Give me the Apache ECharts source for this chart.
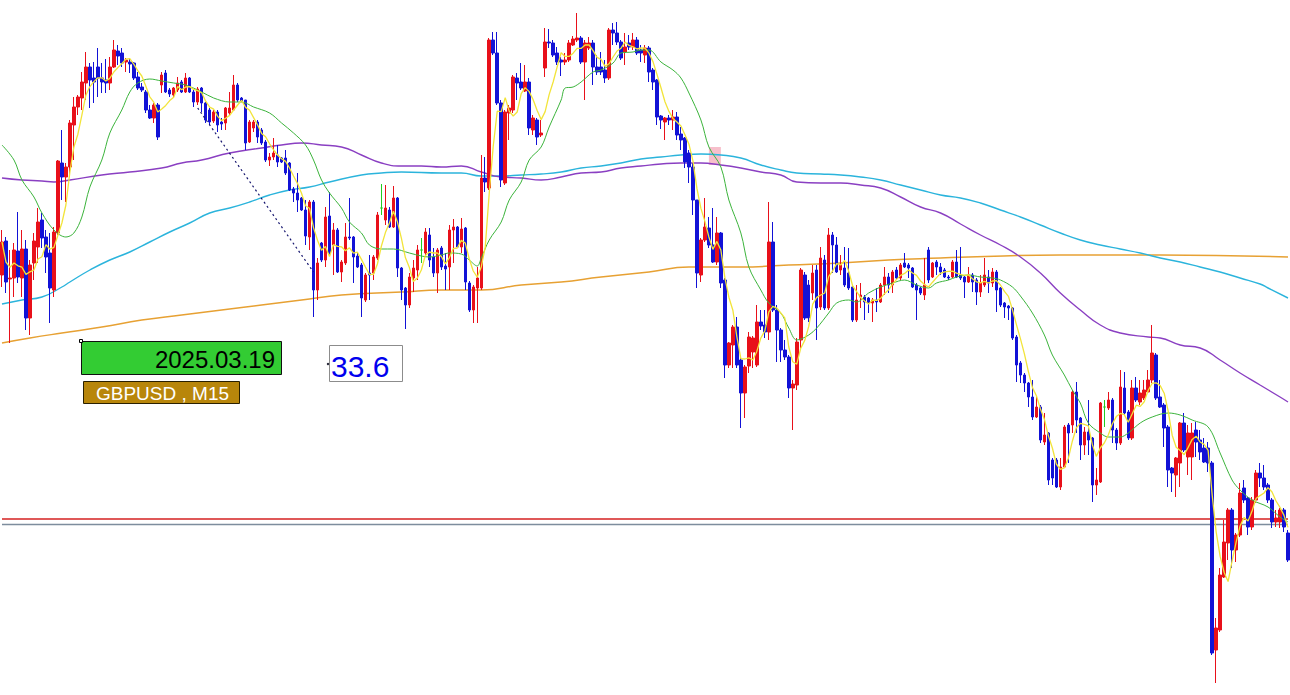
<!DOCTYPE html>
<html><head><meta charset="utf-8">
<script src="https://cdn.jsdelivr.net/npm/echarts@6/dist/echarts.min.js"></script>
<style>html,body{margin:0;padding:0;background:#fff;overflow:hidden}#c{width:1290px;height:695px}</style>
</head><body><div id="c"></div>
<script>
// All prices are stored in points (0.00001) above 1.29000 (GBPUSD, M15)
const open = [1125,1159,1121,1122,1149,1122,1151,1082,1137,1153,
1180,1163,1147,1110,1167,1237,1223,1233,1275,1293,
1302,1317,1333,1322,1333,1322,1320,1317,1333,1349,
1347,1338,1338,1337,1323,1313,1308,1290,1282,1295,
1315,1327,1310,1305,1310,1318,1308,1322,1308,1298,
1312,1297,1290,1279,1288,1278,1277,1287,1290,1315,
1302,1300,1258,1272,1278,1270,1258,1240,1243,1245,
1242,1242,1237,1211,1207,1202,1190,1163,1198,1110,
1157,1140,1184,1155,1170,1128,1137,1163,1163,1144,
1135,1100,1127,1127,1142,1192,1180,1190,1173,1202,
1132,1112,1095,1122,1130,1150,1147,1165,1143,1127,
1152,1134,1133,1170,1173,1153,1172,1117,1090,1112,
1112,1222,1212,1360,1347,1297,1217,1287,1290,1322,
1318,1309,1318,1270,1280,1265,1332,1358,1357,1347,
1340,1338,1340,1355,1360,1362,1338,1352,1357,1333,
1333,1330,1322,1370,1367,1358,1348,1357,1353,1360,
1350,1345,1352,1330,1320,1284,1278,1282,1280,1283,
1266,1262,1247,1233,1200,1125,1160,1172,1155,1138,
1167,1120,1035,1055,1073,1040,1007,1034,1048,1035,
1078,1075,1068,1158,1090,1070,1050,1043,1012,1015,
1060,1125,1115,1107,1130,1093,1140,1092,1165,1155,
1130,1132,1127,1113,1080,1103,1103,1102,1097,1100,
1098,1115,1123,1115,1130,1122,1137,1135,1132,1115,
1112,1105,1150,1123,1138,1133,1130,1123,1123,1138,
1125,1123,1118,1125,1120,1108,1115,1123,1117,1128,
1112,1097,1094,1092,1063,1037,1025,1017,1003,983,
993,958,967,940,940,913,933,975,975,1008,
982,955,968,962,915,918,993,992,1000,970,
957,1012,988,962,1012,998,1002,1008,1020,1045,
1003,995,973,932,925,937,977,943,943,970,
960,952,952,937,750,770,823,857,890,850,
865,912,902,873,900,927,922,915,900,878,
878,890,867];
const close = [1158,1118,1122,1150,1123,1151,1082,1135,1159,1178,
1162,1143,1112,1168,1239,1223,1233,1277,1293,1303,
1318,1333,1320,1318,1322,1318,1317,1333,1350,1344,
1337,1340,1336,1322,1312,1310,1290,1282,1295,1263,
1325,1308,1306,1312,1317,1308,1322,1308,1298,1311,
1297,1280,1278,1288,1275,1276,1292,1292,1315,1300,
1299,1257,1278,1278,1263,1257,1240,1243,1247,1238,
1238,1227,1210,1207,1200,1190,1164,1198,1110,1137,
1140,1183,1147,1170,1128,1138,1163,1162,1143,1133,
1102,1125,1125,1143,1185,1192,1192,1173,1202,1132,
1110,1095,1123,1132,1150,1150,1168,1140,1127,1150,
1133,1131,1170,1173,1153,1171,1118,1090,1113,1122,
1222,1218,1360,1347,1297,1220,1288,1292,1323,1317,
1312,1318,1272,1282,1263,1267,1358,1357,1345,1338,
1338,1340,1357,1361,1362,1338,1357,1357,1333,1328,
1328,1322,1370,1367,1358,1342,1353,1353,1360,1347,
1347,1352,1328,1318,1283,1280,1282,1280,1283,1265,
1260,1238,1233,1200,1127,1160,1173,1155,1138,1167,
1117,1035,1057,1073,1035,1007,1033,1063,1062,1078,
1074,1068,1158,1090,1070,1050,1043,1012,1016,1058,
1130,1082,1082,1127,1092,1142,1092,1165,1155,1128,
1135,1115,1112,1080,1100,1105,1098,1097,1100,1098,
1115,1123,1115,1128,1122,1135,1133,1132,1113,1110,
1107,1115,1120,1137,1133,1128,1123,1122,1138,1123,
1122,1118,1125,1118,1108,1117,1125,1117,1128,1110,
1095,1093,1092,1062,1035,1025,1017,1003,983,993,
960,965,920,922,913,933,973,967,1008,980,
955,968,960,915,920,997,993,1000,970,957,
1013,987,962,1012,1000,1007,1010,1020,1047,1002,
993,972,930,927,942,977,950,967,967,958,
948,938,937,747,772,825,858,890,850,865,
907,900,873,900,927,922,913,900,878,882,
890,873,840];
const low = [1113,1107,1057,1103,1117,1103,1070,1065,1120,1137,
1152,1127,1077,1103,1165,1200,1198,1223,1240,1285,
1290,1300,1292,1297,1303,1307,1307,1310,1332,1335,
1333,1328,1327,1320,1310,1308,1287,1281,1277,1260,
1307,1307,1303,1302,1308,1307,1307,1307,1293,1295,
1288,1277,1275,1277,1268,1270,1270,1285,1290,1298,
1298,1250,1257,1268,1257,1255,1238,1234,1240,1233,
1237,1225,1209,1198,1188,1189,1155,1150,1083,1100,
1138,1133,1145,1125,1127,1118,1135,1160,1117,1132,
1083,1098,1100,1120,1140,1185,1175,1172,1172,1123,
1100,1071,1092,1108,1120,1137,1143,1133,1123,1107,
1130,1110,1110,1137,1152,1147,1110,1088,1077,1077,
1110,1208,1210,1345,1295,1213,1215,1260,1287,1300,
1310,1308,1265,1265,1255,1263,1323,1352,1343,1335,
1324,1335,1338,1354,1358,1336,1300,1350,1315,1325,
1325,1317,1320,1355,1355,1340,1335,1350,1350,1345,
1338,1337,1318,1310,1275,1271,1260,1275,1270,1260,
1250,1232,1217,1185,1112,1118,1158,1152,1137,1135,
1112,1022,1032,1032,1032,972,982,1027,1032,1033,
1070,1062,1060,1088,1038,1038,1040,1002,970,1010,
1052,1080,1078,1100,1060,1090,1090,1090,1127,1127,
1125,1113,1110,1078,1078,1092,1080,1087,1078,1088,
1097,1105,1107,1107,1120,1120,1132,1122,1112,1080,
1105,1100,1117,1122,1125,1125,1122,1120,1122,1122,
1120,1102,1117,1108,1095,1103,1113,1107,1113,1088,
1093,1082,1080,1060,1018,1017,1008,993,980,982,
957,955,915,915,912,910,932,937,967,967,
940,945,945,898,905,917,973,990,957,950,
955,985,960,960,998,995,1000,1007,1017,1000,
992,953,913,908,903,913,948,925,920,943,
940,937,928,745,717,768,822,840,832,838,
863,897,865,870,897,913,910,897,872,873,
872,868,838];
const high = [1170,1163,1150,1157,1188,1170,1160,1140,1167,1192,
1187,1170,1167,1173,1240,1270,1237,1280,1303,1305,
1328,1348,1337,1338,1352,1337,1341,1343,1360,1355,
1352,1342,1341,1338,1328,1317,1310,1295,1297,1297,
1328,1330,1312,1313,1323,1320,1327,1323,1310,1313,
1313,1298,1292,1290,1290,1282,1293,1308,1325,1317,
1303,1300,1280,1280,1280,1272,1260,1247,1262,1255,
1243,1250,1238,1213,1227,1203,1200,1200,1200,1142,
1158,1193,1208,1177,1172,1140,1177,1202,1164,1148,
1137,1127,1145,1145,1188,1216,1215,1193,1214,1203,
1133,1113,1127,1140,1155,1162,1172,1172,1152,1152,
1154,1147,1175,1181,1174,1182,1173,1119,1115,1133,
1245,1243,1362,1368,1368,1300,1290,1295,1325,1327,
1337,1335,1322,1285,1282,1280,1372,1371,1360,1353,
1343,1347,1360,1364,1387,1364,1360,1363,1360,1345,
1348,1340,1372,1377,1378,1360,1367,1365,1367,1363,
1355,1355,1354,1332,1321,1285,1283,1285,1290,1288,
1273,1263,1250,1237,1200,1162,1202,1183,1192,1183,
1168,1122,1058,1075,1083,1042,1035,1068,1064,1095,
1090,1090,1198,1178,1095,1072,1060,1045,1020,1062,
1132,1128,1120,1135,1135,1153,1145,1172,1168,1163,
1145,1153,1152,1115,1115,1117,1105,1103,1102,1112,
1117,1133,1127,1130,1133,1137,1147,1137,1133,1117,
1113,1142,1153,1138,1140,1137,1132,1125,1140,1150,
1153,1125,1133,1127,1122,1125,1142,1130,1132,1130,
1113,1098,1095,1093,1065,1039,1027,1018,1020,1003,
995,987,968,942,942,942,975,977,1010,1018,
983,973,1000,963,932,998,1000,1008,1002,972,
1030,1028,990,1020,1023,1020,1020,1030,1075,1047,
1020,997,975,933,943,978,987,975,977,978,
970,962,958,939,782,832,880,892,892,867,
917,920,903,903,930,937,935,917,902,890,
892,892,870];

// Moving averages (bar index, points)
const greenIdx = [0,3,5,8,10,13,16,18,20,22,25,27,30,32,34,37,40,43,46,50,53,57,60,63,67,70,73,76,78,80,82,85,87,90,92,95,98,102,105,107,110,112,115,117,119,120,122,125,127,130,132,135,137,140,141,143,145,148,150,153,155,158,160,162,165,168,170,172,175,177,180,182,185,187,190,192,195,197,199,202,204,207,209,212,214,217,220,223,226,229,232,234,237,239,242,245,248,250,253,255,258,261,263,266,268,270,272,275,277,280,282,285,288,292,295,298,302,305,308,310,313,317,320,322];
const greenVal = [1255,1240,1220,1203,1187,1170,1163,1167,1183,1213,1240,1267,1290,1308,1317,1321,1319,1317,1315,1308,1302,1298,1298,1293,1287,1277,1267,1255,1240,1220,1207,1192,1178,1167,1155,1151,1151,1147,1144,1143,1145,1147,1146,1140,1134,1142,1160,1178,1200,1218,1240,1253,1273,1300,1312,1313,1318,1328,1330,1337,1347,1348,1350,1350,1338,1330,1322,1307,1280,1253,1233,1200,1167,1133,1110,1097,1087,1072,1060,1065,1072,1087,1097,1100,1098,1107,1113,1117,1120,1115,1112,1117,1120,1123,1125,1123,1122,1120,1113,1104,1087,1065,1045,1025,1010,997,977,967,963,963,967,977,983,987,985,980,973,947,920,910,900,893,883,878];
const cyanIdx = [0,5,10,15,17,22,27,32,37,42,47,52,57,62,67,72,77,82,90,95,100,110,115,120,125,130,135,140,145,150,155,160,165,170,175,180,185,190,195,199,205,210,215,220,225,230,235,240,245,250,255,260,265,270,275,280,285,290,295,300,305,310,315,317,322];
const cyanVal = [1096,1100,1103,1113,1118,1130,1140,1148,1158,1168,1177,1187,1192,1198,1205,1210,1213,1218,1225,1227,1228,1227,1227,1224,1224,1225,1226,1228,1232,1234,1237,1241,1243,1245,1246,1245,1242,1235,1230,1227,1226,1225,1223,1220,1215,1210,1205,1202,1197,1190,1183,1175,1167,1160,1155,1151,1147,1142,1138,1133,1128,1122,1116,1112,1102];
const purpleIdx = [0,5,10,13,17,25,32,40,45,50,57,65,70,75,80,85,90,95,100,105,110,115,120,125,130,135,140,145,150,155,160,165,170,175,180,185,190,195,199,205,210,215,220,225,230,235,240,245,250,255,260,265,270,275,280,287,290,295,300,305,310,315,320,322];
const purpleVal = [1222,1220,1219,1218,1220,1225,1228,1232,1237,1240,1247,1252,1255,1257,1255,1253,1245,1237,1234,1234,1233,1234,1228,1223,1222,1220,1223,1227,1228,1232,1234,1236,1237,1237,1235,1232,1228,1225,1218,1217,1217,1215,1212,1203,1193,1187,1176,1165,1155,1143,1127,1107,1090,1075,1067,1063,1062,1055,1052,1040,1027,1015,1003,998];
const orangeIdx = [0,7,15,25,35,45,55,65,75,85,100,110,120,130,140,150,162,172,185,197,210,222,235,242,265,290,322];
const orangeVal = [1057,1062,1067,1073,1080,1085,1090,1095,1100,1105,1108,1110,1110,1115,1118,1123,1128,1133,1133,1135,1137,1140,1142,1143,1145,1145,1143];

// trend line ends (bar index, points), horizontal levels (points), highlight box
const trendIdx = [49, 78];
const trendVal = [1292, 1128];
const redLevel = 881;
const greyLevel = 875.5;
const boxIdx = [177, 180];
const boxVal = [1253, 1235];

const price = v => +(1.29 + v * 1e-5).toFixed(6);
const cats = open.map((_, i) => String(i));
const last = open.length - 1;
const candles = open.map((o, i) => [price(o), price(close[i]), price(low[i]), price(high[i])]);
const pairs = (idx, val) => idx.map((x, k) => [x, price(val[k])]);
const ma5 = close.map((_, i) => {
  const s = Math.max(0, i - 4); let t = 0;
  for (let k = s; k <= i; k++) t += close[k];
  return price(t / (i - s + 1));
});

const chart = echarts.init(document.getElementById('c'), null, {renderer: 'svg'});
const ln = (data, color, width, smooth, z) => ({
  type: 'line', data, smooth, symbol: 'none', silent: true, z, color,
  lineStyle: {color, width}
});
const F = '"Liberation Sans", Arial, sans-serif';
chart.setOption({
  animation: false,
  backgroundColor: '#ffffff',
  grid: {left: -0.5, top: 0, width: 1292, height: 695},
  xAxis: {type: 'category', data: cats, show: false, boundaryGap: true},
  yAxis: {type: 'value', min: price(705), max: price(1400), show: false, scale: true},
  series: [
    ln([[0, price(redLevel)], [last, price(redLevel)]], '#d42020', 1.5, false, 1),
    ln([[0, price(greyLevel)], [last, price(greyLevel)]], '#7d8d9d', 1.3, false, 1),
    Object.assign(ln(pairs(orangeIdx, orangeVal), '#e7a133', 1.5, true, 2), {
      markArea: {silent: true, itemStyle: {color: 'rgba(244,170,185,0.75)'},
        data: [[{xAxis: boxIdx[0], yAxis: price(boxVal[0])}, {xAxis: boxIdx[1], yAxis: price(boxVal[1])}]]}
    }),
    ln(pairs(cyanIdx, cyanVal), '#2bb4dc', 1.4, true, 3),
    ln(pairs(purpleIdx, purpleVal), '#8a3fc2', 1.4, true, 3),
    {
      type: 'candlestick', data: candles, barWidth: 3, z: 4, silent: true,
      itemStyle: {color: '#e8101a', color0: '#1212d6', borderColor: '#e8101a', borderColor0: '#1212d6',
        borderColorDoji: '#22cc22', borderWidth: 1}
    },
    ln(pairs(greenIdx, greenVal), '#3cb43c', 1, 0.35, 5),
    ln(ma5, '#f2e43a', 1.3, false, 6),
    {type: 'line', data: pairs(trendIdx, trendVal), symbol: 'none', silent: true, z: 7, color: '#14146e',
      lineStyle: {color: '#14146e', width: 1.2, type: [2, 3]}}
  ],
  graphic: [
    {type: 'rect', shape: {x: 81.5, y: 341.5, width: 200, height: 33}, style: {fill: '#33cc33', stroke: '#111', lineWidth: 1}, z: 10},
    {type: 'rect', shape: {x: 79.5, y: 339.5, width: 3, height: 3}, style: {fill: '#fff', stroke: '#000', lineWidth: 1}, z: 11},
    {type: 'text', x: 275, y: 359, style: {text: '2025.03.19', font: '24px ' + F, fill: '#000', align: 'right', verticalAlign: 'middle'}, z: 11},
    {type: 'rect', shape: {x: 83.5, y: 381.5, width: 156, height: 22}, style: {fill: '#b8860b', stroke: '#2a2000', lineWidth: 1}, z: 10},
    {type: 'text', x: 96, y: 393, style: {text: 'GBPUSD , M15', font: '19px ' + F, fill: '#fff', align: 'left', verticalAlign: 'middle'}, z: 11},
    {type: 'rect', shape: {x: 329.5, y: 345.5, width: 73, height: 36}, style: {fill: '#fff', stroke: '#8c8c8c', lineWidth: 1}, z: 10},
    {type: 'text', x: 331, y: 366, style: {text: '33.6', font: '30px ' + F, fill: '#0000ee', align: 'left', verticalAlign: 'middle'}, z: 11},
    {type: 'circle', shape: {cx: 328, cy: 364, r: 1.2}, style: {fill: '#223'}, z: 11}
  ]
});
</script>
</body></html>
